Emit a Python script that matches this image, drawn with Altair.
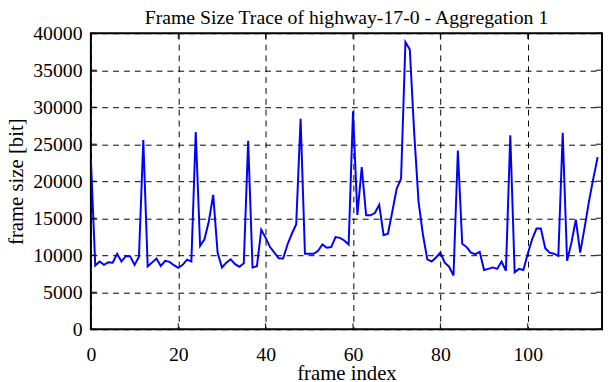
import altair as alt
import pandas as pd

# frame sizes [bit] for frame index 0..116
frame_size = [
    23000, 8600, 9150, 8700, 9050, 9000, 10200, 9150, 9900, 9850,
    8700, 9800, 25550, 8500, 9000, 9550, 8550, 9250, 9100, 8650,
    8300, 8700, 9400, 9150, 26650, 11250, 12150, 14600, 18150, 10350,
    8350, 9000, 9450, 8800, 8450, 8900, 25450, 8350, 8500, 13450,
    12350, 11100, 10350, 9600, 9550, 11450, 12900, 14200, 28450, 10200,
    10200, 10200, 10600, 11450, 11000, 11100, 12450, 12350, 12000, 11450,
    29450, 15450, 21900, 15400, 15400, 15700, 16800, 12700, 12900, 15900,
    19000, 20350, 38800, 37800, 26600, 17250, 12800, 9450, 9150, 9700,
    10350, 9000, 8450, 7250, 24150, 11550, 11100, 10350, 10150, 10450,
    8000, 8150, 8350, 8150, 9150, 7900, 26200, 7700, 8150, 8000,
    10200, 12150, 13600, 13600, 10950, 10350, 10200, 9900, 26550, 9250,
    11700, 14800, 10350, 13700, 17250, 20350, 23250,
]
frame_index = list(range(len(frame_size)))

x_ticks = [0, 20, 40, 60, 80, 100]
y_ticks = [0, 5000, 10000, 15000, 20000, 25000, 30000, 35000, 40000]

title_text = "Frame Size Trace of highway-17-0 - Aggregation 1"
x_title = "frame index"
y_title = "frame size [bit]"

FONT = "Liberation Serif"
W, H = 518, 300
TICK = 6

df = pd.DataFrame({"frame": frame_index, "size": frame_size})
xt = pd.DataFrame({"frame": x_ticks})
yt = pd.DataFrame({"size": y_ticks})

xscale = alt.Scale(domain=[0, 117], nice=False, zero=False)
yscale = alt.Scale(domain=[0, 40000], nice=False)

common_axis = dict(format="d", grid=True, gridDash=[6, 5], gridColor="black",
                   gridOpacity=1, gridWidth=1, ticks=False, domain=False,
                   labelFont=FONT, titleFont=FONT, labelFontSize=20,
                   titleFontSize=21, labelColor="black", titleColor="black",
                   titleFontWeight="normal", labelOverlap=False,
                   labelFlush=False)
x_axis = alt.Axis(values=x_ticks, title=x_title, labelPadding=16,
                  titlePadding=-2, **common_axis)
y_axis = alt.Axis(values=y_ticks, title=y_title, labelPadding=9,
                  titlePadding=6, **common_axis)

X = alt.X("frame:Q", scale=xscale, axis=x_axis)
Y = alt.Y("size:Q", scale=yscale, axis=y_axis)

line = alt.Chart(df).mark_line(color="#0000ff", strokeWidth=2, clip=True).encode(
    x=X, y=Y)

left_ticks = alt.Chart(yt).mark_rule(color="black", strokeWidth=1).encode(
    y=Y, x=alt.value(0), x2=alt.value(TICK))
right_ticks = alt.Chart(yt).mark_rule(color="black", strokeWidth=1).encode(
    y=Y, x=alt.value(W - TICK), x2=alt.value(W))
bottom_ticks = alt.Chart(xt).mark_rule(color="black", strokeWidth=1).encode(
    x=X, y=alt.value(H - TICK), y2=alt.value(H))
top_ticks = alt.Chart(xt).mark_rule(color="black", strokeWidth=1).encode(
    x=X, y=alt.value(0), y2=alt.value(TICK))

chart = alt.layer(line, left_ticks, right_ticks, bottom_ticks, top_ticks).properties(
    width=W, height=H,
    title=alt.TitleParams(title_text, font=FONT, fontSize=20, fontWeight="normal",
                          color="black", anchor="middle", baseline="alphabetic",
                          frame="group", offset=2, dy=23),
    autosize=alt.AutoSizeParams(type="none"),
    padding={"left": 84, "top": 23, "right": 2, "bottom": 56},
    background="white",
).configure_view(
    stroke="black", strokeWidth=2
)

chart.save("out.html", embed_options={"renderer": "svg", "actions": False})
